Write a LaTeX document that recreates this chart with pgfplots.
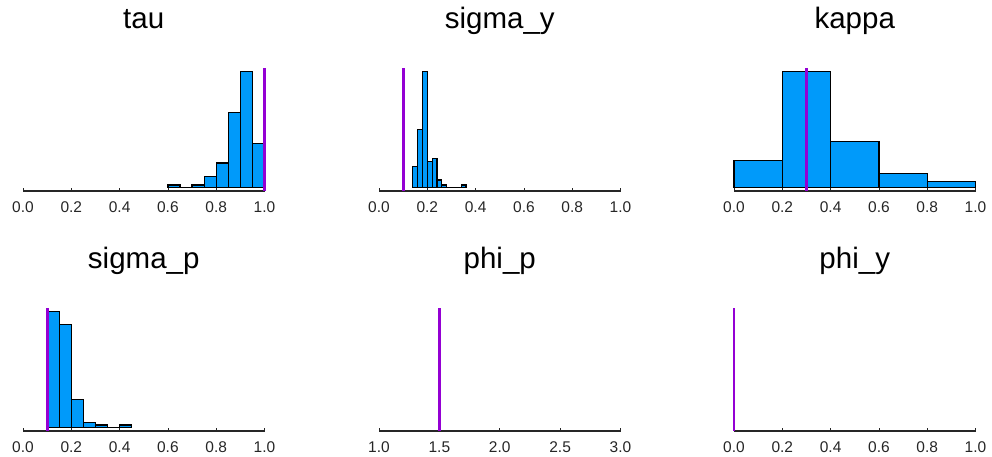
\documentclass[border=0pt]{standalone}
\usepackage{pgfplots}
\pgfplotsset{compat=1.18}
\usepackage{fontspec}
\setmainfont{Liberation Sans}
\definecolor{barblue}{HTML}{009AFA}
\definecolor{vline}{HTML}{9400D3}
\pgfplotsset{
  hist/.style={
    scale only axis, width=241.5bp, height=122.5bp,
    xmin=0, xmax=1, ymin=-10, ymax=357,
    axis y line=none, axis x line=bottom,
    axis line style={-, line width=1.3bp, black!85},
    xtick={0,0.2,0.4,0.6,0.8,1},
    tick align=inside, major tick length=3.5bp,
    tick style={line width=0.8bp, black!85},
    clip=false,
    /pgf/number format/assume math mode=true,
    /pgf/number format/.cd, fixed, fixed zerofill, precision=1, /pgfplots/.cd,
    tick label style={font=\fontsize{15.5bp}{18bp}\selectfont, black!85},
    xticklabel style={yshift=-7.5bp},
    title style={at={(0.5,1)}, anchor=base, yshift=34bp, font=\fontsize{29.5bp}{34bp}\selectfont},
  },
  bars/.style={ybar interval, fill=barblue, draw=black, line width=1.2bp},
  vl/.style={vline, line width=2.8bp},
}
\begin{document}
\begin{tikzpicture}
\useasboundingbox (0bp,0bp) rectangle (992bp,-457bp);
% tau
\begin{axis}[hist, at={(23bp,-191bp)}, anchor=south west, title={tau}]
\addplot[bars] coordinates {(0.60,8) (0.65,0) (0.70,8) (0.75,33) (0.80,74) (0.85,225) (0.90,348) (0.95,132) (1.00,0)};
\addplot[vl] coordinates {(1.0,-10) (1.0,357)};
\end{axis}
% sigma_y
\begin{axis}[hist, at={(379bp,-191bp)}, anchor=south west, title={sigma\_y}]
\addplot[bars] coordinates {(0.14,63) (0.16,174) (0.18,348) (0.20,78) (0.22,87) (0.24,23) (0.26,8) (0.28,0) (0.30,0) (0.32,0) (0.34,8) (0.36,0)};
\addplot[vl] coordinates {(0.1,-10) (0.1,357)};
\end{axis}
% kappa
\begin{axis}[hist, at={(734bp,-191bp)}, anchor=south west, title={kappa}]
\addplot[bars] coordinates {(0.0,82) (0.2,348) (0.4,139) (0.6,43) (0.8,18) (1.0,0)};
\addplot[vl] coordinates {(0.3,-10) (0.3,357)};
\end{axis}
% sigma_p
\begin{axis}[hist, at={(23bp,-431bp)}, anchor=south west, title={sigma\_p}]
\addplot[bars] coordinates {(0.10,349) (0.15,309) (0.20,85) (0.25,15) (0.30,8) (0.35,0) (0.40,8) (0.45,0)};
\addplot[vl] coordinates {(0.1,-10) (0.1,357)};
\end{axis}
% phi_p
\begin{axis}[hist, at={(379bp,-431bp)}, anchor=south west, title={phi\_p}, xmin=1, xmax=3, xtick={1,1.5,2,2.5,3}]
\addplot[vl] coordinates {(1.5,-10) (1.5,357)};
\end{axis}
% phi_y
\begin{axis}[hist, at={(734bp,-431bp)}, anchor=south west, title={phi\_y}]
\addplot[vl] coordinates {(0.0,-10) (0.0,357)};
\end{axis}
\end{tikzpicture}
\end{document}
